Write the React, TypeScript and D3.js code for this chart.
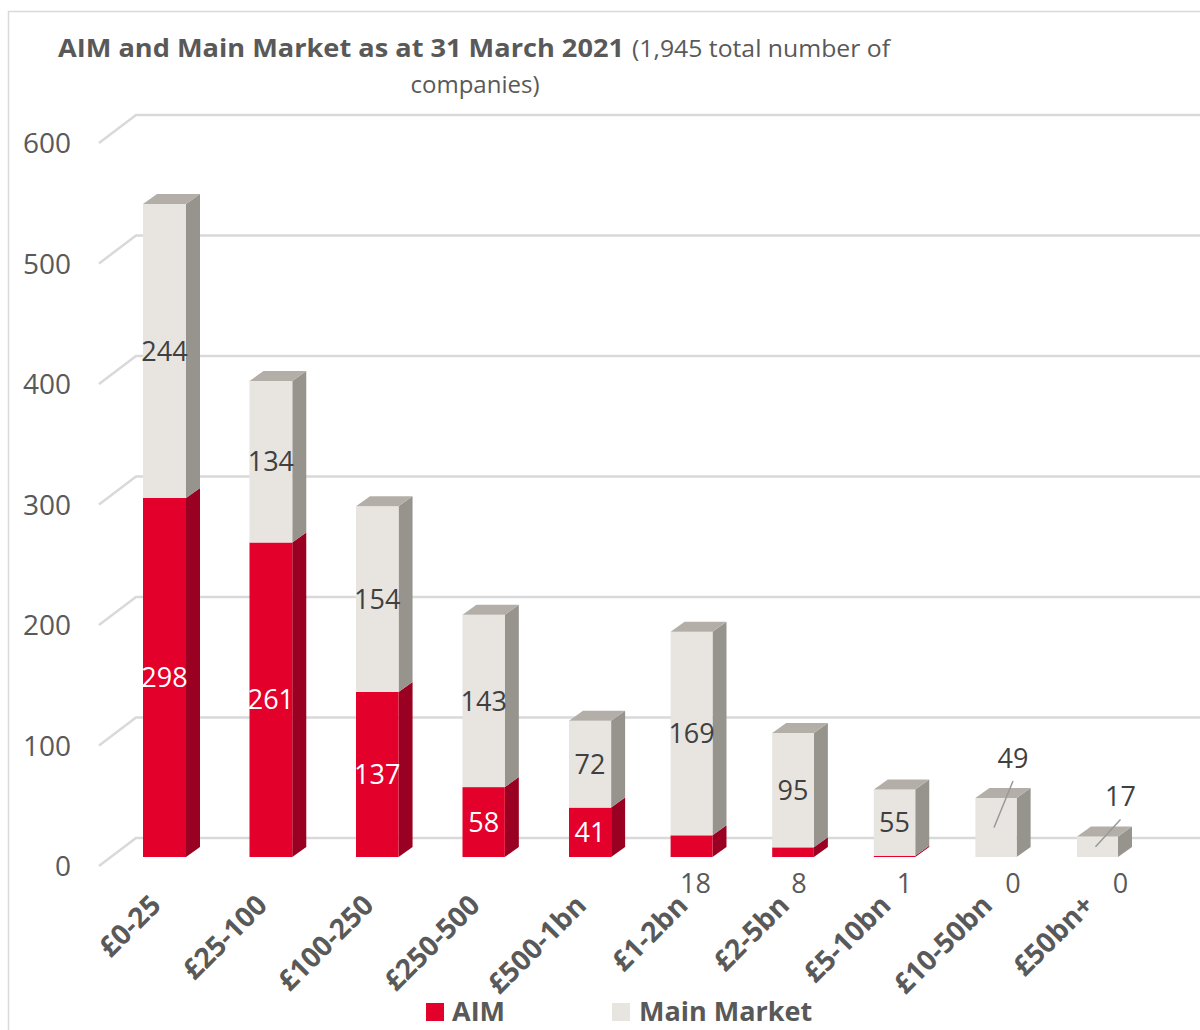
import React from "react";
import * as d3 from "d3";

const categories = ["£0-25", "£25-100", "£100-250", "£250-500", "£500-1bn", "£1-2bn", "£2-5bn", "£5-10bn", "£10-50bn", "£50bn+"];
const aimValues = [298, 261, 137, 58, 41, 18, 8, 1, 0, 0];
const mainValues = [244, 134, 154, 143, 72, 169, 95, 55, 49, 17];
const yTicks = [0, 100, 200, 300, 400, 500, 600];
const seriesNames = ["AIM", "Main Market"];

// layout-only constants (label nudges for Excel-style moved labels)
const outsideNudge = [0, 0, 0, 0, 0, 4, 6, 10, 17, 23];

const FONT = "'Open Sans', 'Liberation Sans', sans-serif";
const RED = "#e3002b", RED_SIDE = "#9a0021";
const GRAY = "#e8e4df", GRAY_TOP = "#b3afa8", GRAY_SIDE = "#97938d";
const TXT = "#595959", LBL = "#404040";

export default function App() {
  const W = 1200, H = 1030;
  const y = d3.scaleLinear().domain([0, 600]).range([857, 134]);
  const x = d3.scaleLinear().domain([0, 4, 9]).range([143, 569, 1077]);
  const bw = d3.scaleLinear().domain([0, 9]).range([43, 41]);
  const DX = 14, DY = -10;
  const gridFrontX = 99, gridBackX = 136;

  const stack = d3.stack<any>().keys(["aim", "main"])(
    categories.map((c, i) => ({ c, aim: aimValues[i], main: mainValues[i] }))
  );

  const bars: React.ReactNode[] = [];
  const labels: React.ReactNode[] = [];
  categories.forEach((c, i) => {
    const x0 = x(i), w = bw(i), x1 = x0 + w, cx = x0 + w / 2;
    stack.forEach((layer, si) => {
      const [v0, v1] = layer[i];
      if (v1 - v0 <= 0) return;
      const yt = y(v1), yb = y(v0);
      const front = si === 0 ? RED : GRAY;
      const side = si === 0 ? RED_SIDE : GRAY_SIDE;
      bars.push(
        <g key={`b${i}-${si}`}>
          <polygon points={`${x1},${yt} ${x1 + DX},${yt + DY} ${x1 + DX},${yb + DY} ${x1},${yb}`} fill={side} />
          <rect x={x0} y={yt} width={w} height={Math.max(yb - yt, 0.8)} fill={front} />
          {si === 1 || mainValues[i] === 0 ? (
            <polygon points={`${x0},${yt} ${x0 + DX},${yt + DY} ${x1 + DX},${yt + DY} ${x1},${yt}`} fill={si === 0 ? RED_SIDE : GRAY_TOP} />
          ) : null}
        </g>
      );
    });
    // AIM label
    const a = aimValues[i];
    if (a >= 30) {
      labels.push(
        <text key={`la${i}`} x={cx} y={y(a / 2)} dy="0.36em" textAnchor="middle" fill="#ffffff" fontSize={27} fontFamily={FONT}>{a}</text>
      );
    } else {
      labels.push(
        <text key={`la${i}`} x={cx + outsideNudge[i]} y={y(0) + 26} dy="0.36em" textAnchor="middle" fill={TXT} fontSize={27} fontFamily={FONT}>{a}</text>
      );
    }
    // Main label
    const m = mainValues[i];
    const mc = y(a + m / 2);
    if (m >= 50) {
      labels.push(
        <text key={`lm${i}`} x={cx} y={mc} dy="0.36em" textAnchor="middle" fill={LBL} fontSize={27} fontFamily={FONT}>{m}</text>
      );
    } else {
      const lx = cx + outsideNudge[i];
      const ly = y(a + m) - 40;
      labels.push(
        <g key={`lm${i}`}>
          <line x1={cx - 2} y1={mc} x2={lx} y2={ly + 23} stroke="#999999" strokeWidth={1.5} />
          <text x={lx} y={ly} dy="0.36em" textAnchor="middle" fill={LBL} fontSize={27} fontFamily={FONT}>{m}</text>
        </g>
      );
    }
  });

  return (
    <svg width={W} height={H} style={{ position: "absolute", left: 0, top: 0, background: "#fff" }}>
      <rect x={8.5} y={11.5} width={1300} height={1100} fill="#ffffff" stroke="#d9d9d9" strokeWidth={1.5} />
      {/* title */}
      <text x={58} y={57} fontFamily={FONT} fill={TXT} fontSize={25} fontWeight="bold" textLength={566} lengthAdjust="spacingAndGlyphs">AIM and Main Market as at 31 March 2021</text>
      <text x={632} y={57} fontFamily={FONT} fill={TXT} fontSize={24} textLength={258} lengthAdjust="spacingAndGlyphs">(1,945 total number of</text>
      <text x={475} y={93} textAnchor="middle" fontFamily={FONT} fill={TXT} fontSize={24}>companies)</text>

      {/* gridlines */}
      {yTicks.map((t) => (
        <g key={`g${t}`}>
          <polyline points={`${gridFrontX},${y(t) + 9} ${gridBackX},${y(t) - 19} ${W + 10},${y(t) - 19}`} fill="none" stroke="#d9d9d9" strokeWidth={2.5} />
          <text x={71} y={y(t) + 9} dy="0.36em" textAnchor="end" fill={TXT} fontSize={28} fontFamily={FONT}>{t}</text>
        </g>
      ))}

      {bars}
      {labels}

      {/* category labels */}
      {categories.map((c, i) => {
        const cx = x(i) + bw(i) / 2 - 2;
        const cy = 907;
        return (
          <text key={`c${i}`} x={cx} y={cy} textAnchor="end" transform={`rotate(-45 ${cx} ${cy})`} fill={TXT} fontSize={28} fontWeight="bold" fontFamily={FONT}>{c}</text>
        );
      })}

      {/* legend */}
      <rect x={426} y={1003} width={18} height={18} fill={RED} />
      <text x={452} y={1021} fill={TXT} fontSize={27} fontWeight="bold" fontFamily={FONT}>{seriesNames[0]}</text>
      <rect x={612} y={1003} width={18} height={18} fill={GRAY} />
      <text x={639} y={1021} fill={TXT} fontSize={27} fontWeight="bold" fontFamily={FONT}>{seriesNames[1]}</text>
    </svg>
  );
}
